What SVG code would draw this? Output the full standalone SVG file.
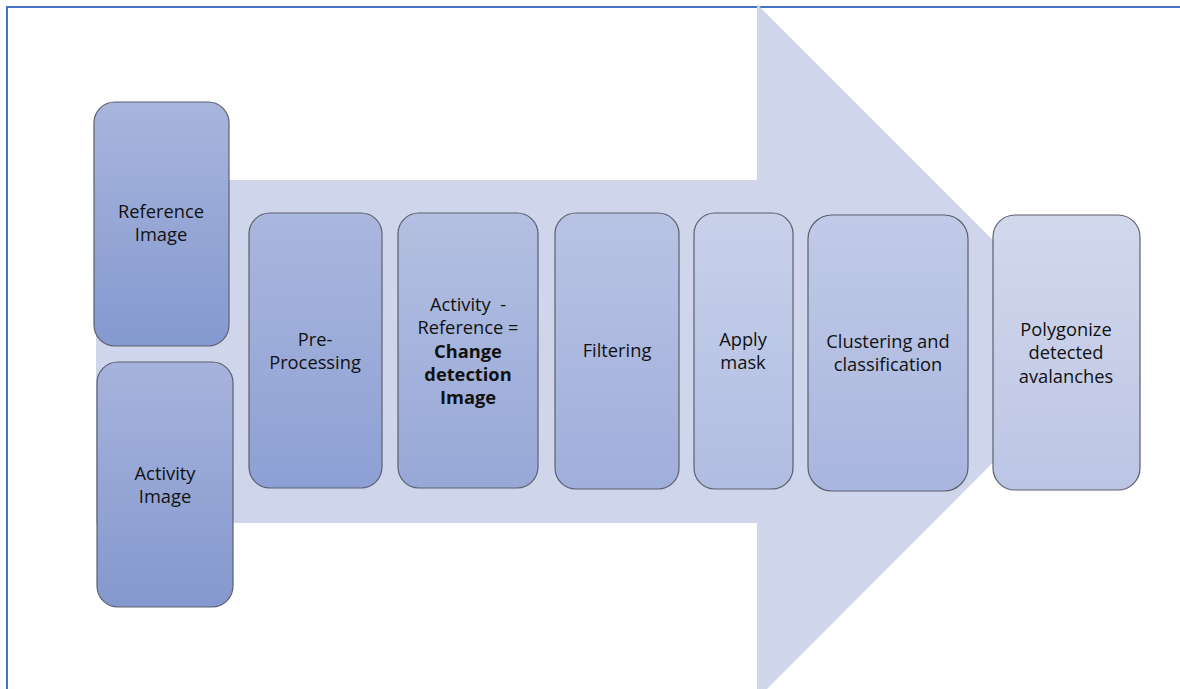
<svg xmlns="http://www.w3.org/2000/svg" width="1180" height="689" viewBox="0 0 1180 689">
<style>
.box{stroke:#5b606e;stroke-width:1.2}
.t{font-family:"Open Sans","Liberation Sans",sans-serif;font-size:18.3px;fill:#111;text-anchor:middle}
.b{font-weight:bold}
</style>
<defs>
<linearGradient id="g1" x1="0" y1="0" x2="0" y2="1"><stop offset="0" stop-color="#A8B5DD"/><stop offset="1" stop-color="#8499CF"/></linearGradient>
<linearGradient id="g2" x1="0" y1="0" x2="0" y2="1"><stop offset="0" stop-color="#A6B3DC"/><stop offset="1" stop-color="#8498CE"/></linearGradient>
<linearGradient id="g3" x1="0" y1="0" x2="0" y2="1"><stop offset="0" stop-color="#AAB7DE"/><stop offset="1" stop-color="#8DA0D4"/></linearGradient>
<linearGradient id="g4" x1="0" y1="0" x2="0" y2="1"><stop offset="0" stop-color="#B3C0E2"/><stop offset="1" stop-color="#97A8D7"/></linearGradient>
<linearGradient id="g5" x1="0" y1="0" x2="0" y2="1"><stop offset="0" stop-color="#B8C3E4"/><stop offset="1" stop-color="#A0AEDB"/></linearGradient>
<linearGradient id="g6" x1="0" y1="0" x2="0" y2="1"><stop offset="0" stop-color="#C8D0EA"/><stop offset="1" stop-color="#B0BDE2"/></linearGradient>
<linearGradient id="g7" x1="0" y1="0" x2="0" y2="1"><stop offset="0" stop-color="#C1CAE7"/><stop offset="1" stop-color="#A8B5DE"/></linearGradient>
<linearGradient id="g8" x1="0" y1="0" x2="0" y2="1"><stop offset="0" stop-color="#D2D8EC"/><stop offset="1" stop-color="#BCC5E4"/></linearGradient>
</defs>
<rect width="1180" height="689" fill="#fff"/>
<g id="frame" fill="none" stroke="#4472C4" stroke-width="2">
<path d="M7 689 V7 H1180"/>
</g>
<g id="arrow">
<path d="M96 180 H757 V4 L1104 351.5 L757 699 V523 H96 Z" fill="#CFD5EA"/>
</g>
<g id="connectors"></g>
<g id="reference">
<rect class="box" x="94" y="102" width="135" height="244" rx="21" fill="url(#g1)"/>
<text class="t" x="161" y="218" font-size="15.5">Reference</text>
<text class="t" x="161" y="241">Image</text>
</g>
<g id="activity">
<rect class="box" x="97" y="362" width="136" height="245" rx="21" fill="url(#g2)"/>
<text class="t" x="165" y="480">Activity</text>
<text class="t" x="165" y="503">Image</text>
</g>
<g id="preprocessing">
<rect class="box" x="249" y="213" width="133" height="275" rx="21" fill="url(#g3)"/>
<text class="t" x="315" y="346">Pre-</text>
<text class="t" x="315" y="369">Processing</text>
</g>
<g id="change">
<rect class="box" x="398" y="213" width="140" height="275" rx="21" fill="url(#g4)"/>
<text class="t" x="468" y="311">Activity &#160;-</text>
<text class="t" x="468" y="334">Reference =</text>
<text class="t b" x="468" y="358">Change</text>
<text class="t b" x="468" y="381">detection</text>
<text class="t b" x="468" y="404">Image</text>
</g>
<g id="filtering">
<rect class="box" x="555" y="213" width="124" height="276" rx="21" fill="url(#g5)"/>
<text class="t" x="617" y="357">Filtering</text>
</g>
<g id="mask">
<rect class="box" x="694" y="213" width="99" height="276" rx="21" fill="url(#g6)"/>
<text class="t" x="743" y="346">Apply</text>
<text class="t" x="743" y="369">mask</text>
</g>
<g id="clustering">
<rect class="box" x="808" y="215" width="160" height="276" rx="24" fill="url(#g7)"/>
<text class="t" x="888" y="348">Clustering and</text>
<text class="t" x="888" y="371">classification</text>
</g>
<g id="polygonize">
<rect class="box" x="993" y="215" width="147" height="275" rx="22" fill="url(#g8)"/>
<text class="t" x="1066" y="336">Polygonize</text>
<text class="t" x="1066" y="359">detected</text>
<text class="t" x="1066" y="383">avalanches</text>
</g>
</svg>
